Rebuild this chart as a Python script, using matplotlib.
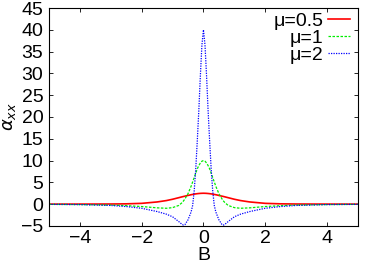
import matplotlib
matplotlib.use("Agg")
import matplotlib.pyplot as plt

plt.rcParams['font.family'] = ['Liberation Sans', 'DejaVu Sans']
plt.rcParams['mathtext.fontset'] = 'dejavusans'

# magnetic field B
B = [-5.0, -4.0, -3.0, -2.5, -2.0, -1.5, -1.2, -1.0, -0.8, -0.7, -0.65, -0.6, -0.5,
     -0.4, -0.35, -0.3, -0.25, -0.2, -0.15, -0.1, -0.05, 0.0,
     0.05, 0.1, 0.15, 0.2, 0.25, 0.3, 0.35, 0.4, 0.5, 0.6, 0.65, 0.7, 0.8,
     1.0, 1.2, 1.5, 2.0, 2.5, 3.0, 4.0, 5.0]

# alpha_xx for mu = 0.5, 1, 2
mu05 = [0.0, 0.01, 0.03, 0.07, 0.18, 0.5, 0.82, 1.12, 1.48, 1.66, 1.75, 1.83, 2.0,
        2.16, 2.23, 2.3, 2.35, 2.4, 2.44, 2.47, 2.49, 2.5,
        2.49, 2.47, 2.44, 2.4, 2.35, 2.3, 2.23, 2.16, 2.0, 1.83, 1.75, 1.66, 1.48,
        1.12, 0.82, 0.5, 0.18, 0.07, 0.03, 0.01, 0.0]
mu1 = [-0.05, -0.1, -0.22, -0.35, -0.55, -0.85, -0.95, -0.8, -0.3, 0.3, 0.7, 1.2, 2.4,
       4.1, 5.1, 6.1, 7.1, 8.1, 8.85, 9.45, 9.85, 10.0,
       9.85, 9.45, 8.85, 8.1, 7.1, 6.1, 5.1, 4.1, 2.4, 1.2, 0.7, 0.3, -0.3,
       -0.8, -0.95, -0.85, -0.55, -0.35, -0.22, -0.1, -0.05]
mu2 = [-0.05, -0.1, -0.3, -0.55, -0.95, -1.7, -2.3, -2.9, -4.0, -4.6, -4.8, -4.7, -3.6,
       -1.8, -0.3, 3.0, 8.0, 14.5, 21.5, 29.5, 36.5, 40.0,
       36.5, 29.5, 21.5, 14.5, 8.0, 3.0, -0.3, -1.8, -3.6, -4.7, -4.8, -4.6, -4.0,
       -2.9, -2.3, -1.7, -0.95, -0.55, -0.3, -0.1, -0.05]

xticks = [-4, -2, 0, 2, 4]
yticks = [-5, 0, 5, 10, 15, 20, 25, 30, 35, 40, 45]

fig = plt.figure(figsize=(3.74, 2.68), dpi=100)
ax = fig.add_axes([0.131, 0.157, 0.826, 0.813])

ax.plot(B, mu05, color='#ff0000', lw=1.2, label='μ=0.5')
ax.plot(B, mu1, color='#00ee00', lw=0.9, dashes=(2, 1.2), label='μ=1')
ax.plot(B, mu2, color='#0000ff', lw=0.9, linestyle=(0, (1, 1)), label='μ=2')

ax.set_xlim(-5, 5)
ax.set_ylim(-5, 45)
ax.set_xticks(xticks)
ax.set_yticks(yticks)
ax.tick_params(direction='in', length=3, width=0.6, top=True, right=True,
               labelsize=14, colors='black')
ax.tick_params(axis='y', pad=4)
ax.tick_params(axis='x', pad=3)
ax.set_xlabel('B', fontsize=14, labelpad=0)
ax.set_ylabel(r'$\alpha_{xx}$', fontsize=13, labelpad=2)
for s in ax.spines.values():
    s.set_linewidth(0.8)

ax.legend(loc='upper right', bbox_to_anchor=(0.974, 0.98), frameon=False,
          markerfirst=False, fontsize=14, handlelength=1.1, handletextpad=0.25,
          labelspacing=-0.04, borderpad=0, borderaxespad=0)

fig.savefig('out.png', dpi=100)
